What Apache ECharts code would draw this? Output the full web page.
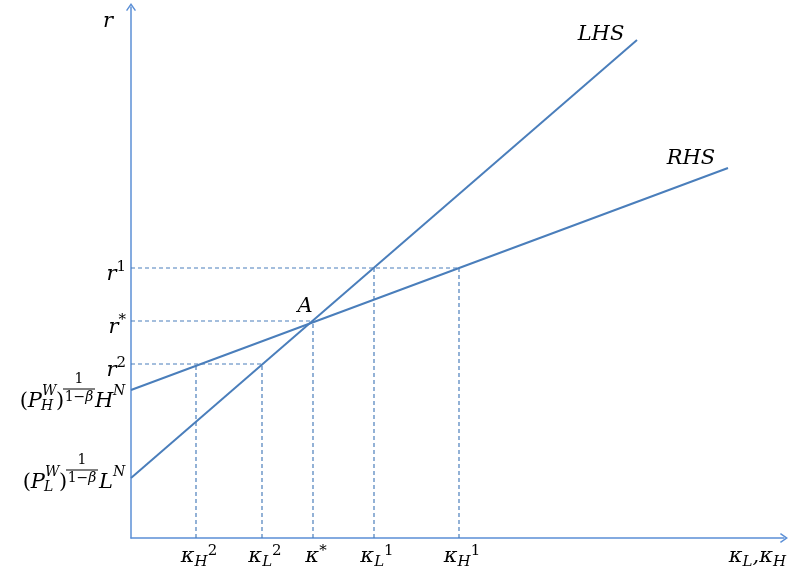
<!DOCTYPE html>
<html><head><meta charset="utf-8">
<script src="https://cdn.jsdelivr.net/npm/echarts@6/dist/echarts.min.js"></script>
<style>html,body{margin:0;padding:0;background:#fff}#c{width:790px;height:574px}</style>
</head><body><div id="c"></div>
<script>
// ---- data (units: abstract chart units) ----
const lhsLine = [[0, 0.60], [5.06, 4.98]];
const rhsLine = [[0, 1.48], [5.97, 3.70]];
const kappaValues = [0.65, 1.31, 1.82, 2.43, 3.28];          // κH², κL², κ*, κL¹, κH¹
const kappaLabels = ['{k|κ}{sub|H}{sup|2}', '{k|κ}{sub|L}{sup|2}', '{k|κ}{ast|*}', '{k|κ}{sub|L}{sup|1}', '{k|κ}{sub|H}{sup|1}'];
const rValues = [1.74, 2.17, 2.70];                          // r², r*, r¹
const rLabels = ['{m|r}{sup|2}', '{m|r}{ast|*}', '{m|r}{sup|1}'];
const guidePairs = [[0, 0], [1, 0], [2, 1], [3, 2], [4, 2]];  // [kappa index, r index]
const intersectionA = [1.82, 2.17];
const xMax = 6.53, yMax = 5.31;

const FONT = '"DejaVu Serif"';
const LINE = '#4a7ebb';
const AXIS = '#5b8fd6';

// dashed guide segments built from the values
const segments = [];
rValues.forEach((r, ri) => {
  const ks = guidePairs.filter(p => p[1] === ri).map(p => kappaValues[p[0]]);
  segments.push([[0, r], [Math.max(...ks), r]]);
});
guidePairs.forEach(([ki, ri]) => segments.push([[kappaValues[ki], 0], [kappaValues[ki], rValues[ri]]]));

const richMain = { fontFamily: FONT, fontStyle: 'italic', fontSize: 21, color: '#000' };
const arrowPath = 'path://M6,0 L12,8.6 L10.6,9.6 L6,3 L1.4,9.6 L0,8.6 Z';

function pick(arr, vals, v) {
  for (let i = 0; i < vals.length; i++) if (Math.abs(vals[i] - v) < 1e-6) return arr[i];
  return '';
}

const chart = echarts.init(document.getElementById('c'), null, { renderer: 'canvas' });
const series = [
  {
    type: 'line', data: lhsLine, showSymbol: false, silent: true, animation: false,
    lineStyle: { color: LINE, width: 2 },
    markPoint: {
      symbol: 'circle', symbolSize: 1, itemStyle: { color: 'transparent' }, animation: false,
      data: [
        { coord: lhsLine[1], label: { show: true, formatter: 'LHS', offset: [-36, -5], ...richMain } },
        { coord: intersectionA, label: { show: true, formatter: 'A', offset: [-8, -14], ...richMain } }
      ]
    }
  },
  {
    type: 'line', data: rhsLine, showSymbol: false, silent: true, animation: false,
    lineStyle: { color: LINE, width: 2 },
    markPoint: {
      symbol: 'circle', symbolSize: 1, itemStyle: { color: 'transparent' }, animation: false,
      data: [
        { coord: rhsLine[1], label: { show: true, formatter: 'RHS', offset: [-37, -9], ...richMain } }
      ]
    }
  }
];
segments.forEach(seg => series.push({
  type: 'line', data: seg, showSymbol: false, silent: true, animation: false, z: 1,
  lineStyle: { color: LINE, width: 1.2, type: [4, 3] }
}));

chart.setOption({
  animation: false,
  grid: { left: 131, right: 6, top: 7, bottom: 36, containLabel: false },
  xAxis: {
    type: 'value', min: 0, max: xMax,
    splitLine: { show: false }, axisTick: { show: false },
    axisLine: { show: true, onZero: false, lineStyle: { color: AXIS, width: 1.5 }, symbol: ['none', arrowPath], symbolSize: [11, 8] },
    axisLabel: {
      customValues: kappaValues, margin: 6, padding: [0, 0, 0, 6],
      formatter: v => pick(kappaLabels, kappaValues, v),
      rich: {
        k: { ...richMain, lineHeight: 26 },
        sub: { ...richMain, fontSize: 15, lineHeight: 16, verticalAlign: 'bottom' },
        sup: { fontFamily: FONT, fontSize: 15, lineHeight: 16, verticalAlign: 'top', color: '#000' },
        ast: { fontFamily: FONT, fontSize: 15, lineHeight: 18, verticalAlign: 'top', color: '#000' }
      }
    },
    name: '{k|κ}{sub|L}{k|,κ}{sub|H}', nameLocation: 'end', nameGap: 2,
    nameTextStyle: {
      align: 'right', verticalAlign: 'top', padding: [6, 0, 0, 0],
      rich: {
        k: { ...richMain, lineHeight: 26 },
        sub: { ...richMain, fontSize: 15, lineHeight: 16, verticalAlign: 'bottom' }
      }
    }
  },
  yAxis: {
    type: 'value', min: 0, max: yMax,
    splitLine: { show: false }, axisTick: { show: false },
    axisLine: { show: true, onZero: false, lineStyle: { color: AXIS, width: 1.5 }, symbol: ['none', arrowPath], symbolSize: [11, 8] },
    axisLabel: {
      customValues: rValues, margin: 5, padding: [14, 0, 0, 0],
      formatter: v => pick(rLabels, rValues, v),
      rich: {
        m: { ...richMain, lineHeight: 30 },
        sup: { fontFamily: FONT, fontSize: 15, lineHeight: 16, verticalAlign: 'top', color: '#000' },
        ast: { fontFamily: FONT, fontSize: 15, lineHeight: 19, verticalAlign: 'top', color: '#000' }
      }
    },
    name: 'r', nameLocation: 'end', nameGap: -4,
    nameTextStyle: { ...richMain, align: 'right', verticalAlign: 'top', padding: [0, 18, 0, 0] }
  },
  series
});

// ---- stacked math labels at the two intercepts ----
function txt(x, y, text, size, italic, align) {
  return {
    type: 'text', x, y, silent: true,
    style: {
      text, fill: '#000', font: (italic ? 'italic ' : '') + size + 'px ' + FONT,
      align: align || 'left', textAlign: align || 'left', verticalAlign: 'middle', textVerticalAlign: 'middle'
    }
  };
}
function interceptLabel(yVal, letter, cfg) {
  const p = chart.convertToPixel({ xAxisIndex: 0, yAxisIndex: 0 }, [0, yVal]);
  const x0 = p[0], yc = p[1] + cfg.dy;
  const els = [];
  els.push({
    type: 'text', x: x0 + cfg.pEnd, y: yc, silent: true,
    style: {
      text: '{u|(}{i|P}', align: 'right', textAlign: 'right', verticalAlign: 'middle', textVerticalAlign: 'middle',
      rich: {
        u: { fontFamily: FONT, fontSize: 21, fill: '#000', color: '#000' },
        i: { fontFamily: FONT, fontStyle: 'italic', fontSize: 21, fill: '#000', color: '#000' }
      }
    }
  });
  els.push(txt(x0 + cfg.pEnd, yc - 11, 'W', 14, true));
  els.push(txt(x0 + cfg.pEnd - 1, yc + 4, letter, 14, true));
  els.push(txt(x0 + cfg.paren, yc, ')', 21, false));
  els.push(txt(x0 + cfg.frac, yc - 23, '1', 14, false, 'center'));
  els.push({ type: 'line', silent: true, shape: { x1: x0 + cfg.frac - 16, y1: yc - 13, x2: x0 + cfg.frac + 16, y2: yc - 13 }, style: { stroke: '#000', lineWidth: 1 } });
  els.push({
    type: 'text', x: x0 + cfg.frac, y: yc - 5, silent: true,
    style: {
      text: '{u|1−}{i|β}', align: 'center', textAlign: 'center', verticalAlign: 'middle', textVerticalAlign: 'middle',
      rich: {
        u: { fontFamily: FONT, fontSize: 14, fill: '#000', color: '#000' },
        i: { fontFamily: FONT, fontStyle: 'italic', fontSize: 14, fill: '#000', color: '#000' }
      }
    }
  });
  els.push(txt(x0 + cfg.main, yc, letter, 21, true));
  els.push(txt(x0 + cfg.sup, yc - 11, 'N', 14, true));
  return els;
}
const graphics = [].concat(
  interceptLabel(rhsLine[0][1], 'H', { dy: 12, pEnd: -89, paren: -75, frac: -52, main: -36, sup: -18 }),
  interceptLabel(lhsLine[0][1], 'L', { dy: 5, pEnd: -86, paren: -72, frac: -49, main: -32, sup: -18 })
);
chart.setOption({ graphic: graphics });
</script>
</body></html>
